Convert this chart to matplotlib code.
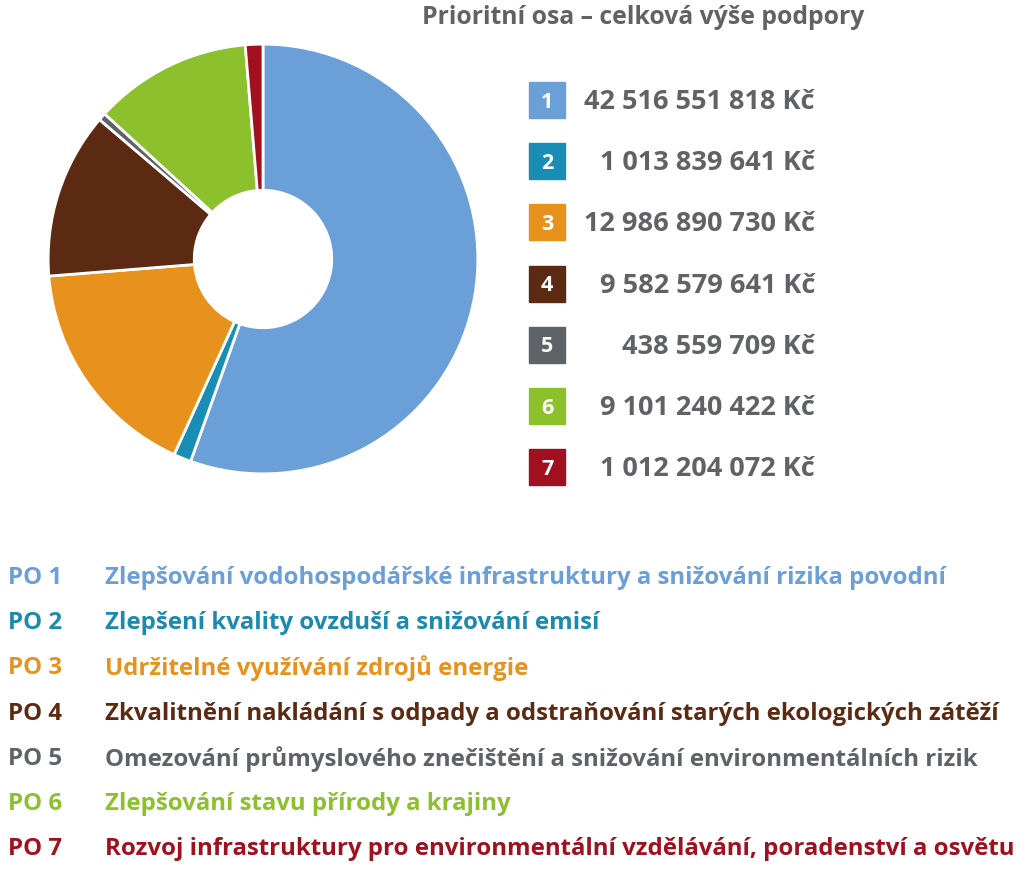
import matplotlib.pyplot as plt
from matplotlib.patches import Rectangle

plt.rcParams['font.family'] = ['Open Sans', 'DejaVu Sans']

# data
axis_ids = ['1', '2', '3', '4', '5', '6', '7']
amounts = [42516551818, 1013839641, 12986890730, 9582579641,
           438559709, 9101240422, 1012204072]
amount_labels = ['42 516 551 818 Kč', '1 013 839 641 Kč', '12 986 890 730 Kč',
                 '9 582 579 641 Kč', '438 559 709 Kč', '9 101 240 422 Kč',
                 '1 012 204 072 Kč']
po_names = [
    'Zlepšování vodohospodářské infrastruktury a snižování rizika povodní',
    'Zlepšení kvality ovzduší a snižování emisí',
    'Udržitelné využívání zdrojů energie',
    'Zkvalitnění nakládání s odpady a odstraňování starých ekologických zátěží',
    'Omezování průmyslového znečištění a snižování environmentálních rizik',
    'Zlepšování stavu přírody a krajiny',
    'Rozvoj infrastruktury pro environmentální vzdělávání, poradenství a osvětu',
]
colors = ['#6A9FD8', '#1A8DB4', '#E8921E', '#5C2A12', '#5E6368', '#8CC02C', '#A0101F']
text_colors = ['#6A9FD8', '#1A8AAF', '#E8921E', '#5C2A12', '#5E6368', '#8CC02C', '#A0101F']
grey = '#606266'

W, H = 1024, 870
fig = plt.figure(figsize=(W / 100, H / 100), dpi=100)


def fx(x):
    return x / W


def fy(y):
    return 1 - y / H


# donut
ax = fig.add_axes([fx(46), fy(477), 434 / W, 434 / H])
ax.pie(amounts, colors=colors, startangle=90, counterclock=False, radius=1,
       wedgeprops=dict(width=0.68, edgecolor='white', linewidth=2))
ax.set_xlim(-1.01, 1.01)
ax.set_ylim(-1.01, 1.01)
ax.set_aspect('equal')
ax.axis('off')

# title
fig.text(fx(643), fy(18), 'Prioritní osa – celková výše podpory', ha='center', va='center',
         fontsize=17.8, fontweight='bold', color=grey)

# legend with squares
for i, (aid, lab) in enumerate(zip(axis_ids, amount_labels)):
    yc = 101 + i * 61.2
    fig.patches.append(Rectangle((fx(529), fy(yc + 18)), 36 / W, 36 / H,
                                 transform=fig.transFigure, color=colors[i]))
    fig.text(fx(547), fy(yc + 1), aid, ha='center', va='center', fontsize=15.5,
             fontweight='bold', color='white')
    fig.text(fx(815), fy(yc + 1), lab, ha='right', va='center', fontsize=19.5,
             fontweight='bold', color=grey)

# bottom list
for i, name in enumerate(po_names):
    yc = 578 + i * 45.2
    fig.text(fx(8), fy(yc), f'PO {i + 1}', ha='left', va='center', fontsize=17.3,
             fontweight='bold', color=text_colors[i])
    fig.text(fx(105), fy(yc), name, ha='left', va='center', fontsize=17.3,
             fontweight='bold', color=text_colors[i])

fig.savefig('out.png', dpi=100)
